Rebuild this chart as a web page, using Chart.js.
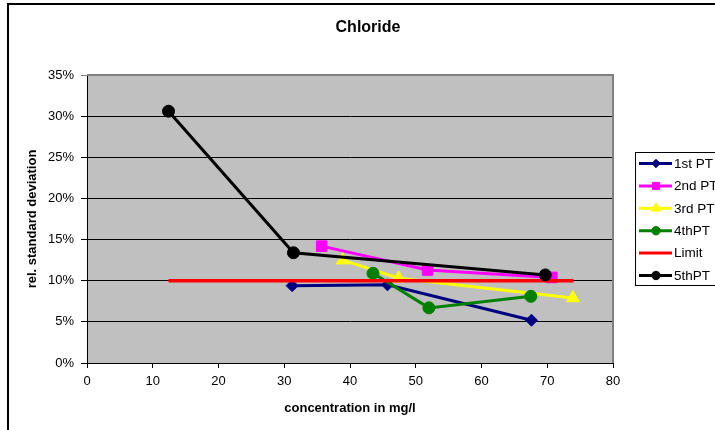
<!DOCTYPE html>
<html>
<head>
<meta charset="utf-8">
<script src="https://cdn.jsdelivr.net/npm/chart.js@4/dist/chart.umd.min.js"></script>
<style>
  html, body { margin: 0; padding: 0; background: #fff; overflow: hidden; }
  canvas { display: block; }
</style>
</head>
<body>
<canvas id="c" width="715" height="430"></canvas>
<script>
// ---- data ----
const chartTitle = 'Chloride';
const xTitle = 'concentration in mg/l';
const yTitle = 'rel. standard deviation';
const seriesNames = ['1st PT', '2nd PT', '3rd PT', '4thPT', 'Limit', '5thPT'];

const pt1X = [31.2, 45.7, 67.6];
const pt1Y = [9.4, 9.5, 5.2];
const pt2X = [35.7, 51.8, 70.7];
const pt2Y = [14.2, 11.3, 10.4];
const pt3X = [38.9, 47.4, 73.9];
const pt3Y = [12.5, 10.3, 7.9];
const pt4X = [43.5, 52.0, 67.5];
const pt4Y = [10.9, 6.7, 8.1];
const limitX = [12.4, 74.0];
const limitY = [10, 10];
const pt5X = [12.4, 31.4, 69.7];
const pt5Y = [30.6, 13.4, 10.7];

const xMin = 0, xMax = 80, xStep = 10;
const yMin = 0, yMax = 35, yStep = 5;

// ---- styles ----
const colors = ['#000080', '#FF00FF', '#FFFF00', '#008000', '#FF0000', '#000000'];
const styles = ['rectRot', 'rect', 'triangle', 'circle', false, 'circle'];
const radii = [6, 7.5, 7.5, 6, 0, 6];
const legendRadii = [4.2, 5, 5.5, 4.2, 0, 4.2];

const xs = [pt1X, pt2X, pt3X, pt4X, limitX, pt5X];
const ys = [pt1Y, pt2Y, pt3Y, pt4Y, limitY, pt5Y];

const FONT = "'Liberation Sans', Arial, sans-serif";
Chart.defaults.font.family = FONT;
Chart.defaults.font.size = 13;
Chart.defaults.color = '#000';

const datasets = seriesNames.map((name, i) => ({
  label: name,
  data: xs[i].map((x, k) => ({ x: x, y: ys[i][k] })),
  showLine: true,
  borderColor: colors[i],
  backgroundColor: colors[i],
  borderWidth: i === 4 ? 3.5 : 3,
  pointStyle: styles[i],
  pointRadius: radii[i],
  pointHoverRadius: radii[i],
  pointBackgroundColor: colors[i],
  pointBorderColor: colors[i],
  pointBorderWidth: 1,
  order: seriesNames.length - i
}));

function shape(ctx, style, x, y, r) {
  ctx.beginPath();
  if (style === 'rectRot') {
    ctx.moveTo(x, y - r); ctx.lineTo(x + r, y); ctx.lineTo(x, y + r); ctx.lineTo(x - r, y);
  } else if (style === 'rect') {
    const s = r * Math.SQRT1_2;
    ctx.rect(x - s, y - s, 2 * s, 2 * s);
  } else if (style === 'triangle') {
    ctx.moveTo(x, y - r);
    ctx.lineTo(x + r * 0.866, y + r * 0.5);
    ctx.lineTo(x - r * 0.866, y + r * 0.5);
  } else {
    ctx.arc(x, y, r, 0, Math.PI * 2);
  }
  ctx.closePath();
  ctx.fill();
  ctx.stroke();
}

const decor = {
  id: 'decor',
  beforeDraw(chart) {
    const ctx = chart.ctx, a = chart.chartArea;
    ctx.save();
    ctx.fillStyle = '#fff';
    ctx.fillRect(0, 0, chart.width, chart.height);
    // outer chart frame (extends past the visible window on the right and bottom)
    ctx.strokeStyle = '#000';
    ctx.lineWidth = 2;
    ctx.strokeRect(8, 4, 760, 500);
    // plot background
    ctx.fillStyle = '#C0C0C0';
    ctx.fillRect(a.left, a.top, a.right - a.left, a.bottom - a.top);
    // title
    ctx.fillStyle = '#000';
    ctx.font = 'bold 16px ' + FONT;
    ctx.textAlign = 'center';
    ctx.textBaseline = 'middle';
    ctx.fillText(chartTitle, 368, 28);
    ctx.restore();
  },
  beforeDatasetsDraw(chart) {
    const ctx = chart.ctx, a = chart.chartArea;
    ctx.save();
    ctx.strokeStyle = '#808080';
    ctx.lineWidth = 2;
    ctx.beginPath();
    ctx.moveTo(a.left, a.top);
    ctx.lineTo(a.right, a.top);
    ctx.lineTo(a.right, a.bottom);
    ctx.stroke();
    ctx.restore();
  },
  afterDraw(chart) {
    const ctx = chart.ctx;
    ctx.save();
    ctx.fillStyle = '#fff';
    ctx.fillRect(635, 152, 100, 133);
    ctx.strokeStyle = '#000';
    ctx.lineWidth = 1;
    ctx.strokeRect(635.5, 152.5, 100, 133);
    ctx.font = '13.5px ' + FONT;
    ctx.textAlign = 'left';
    ctx.textBaseline = 'middle';
    chart.data.datasets.forEach((ds, i) => {
      const y = 163.5 + i * 22.4;
      ctx.strokeStyle = ds.borderColor;
      ctx.lineWidth = 3;
      ctx.beginPath();
      ctx.moveTo(639, y);
      ctx.lineTo(672, y);
      ctx.stroke();
      if (ds.pointStyle) {
        ctx.fillStyle = ds.borderColor;
        ctx.lineWidth = 1;
        shape(ctx, ds.pointStyle, 656, y, legendRadii[i]);
      }
      ctx.fillStyle = '#000';
      ctx.fillText(ds.label, 674, y + 0.5);
    });
    ctx.restore();
  }
};

new Chart(document.getElementById('c'), {
  type: 'scatter',
  data: { datasets: datasets },
  options: {
    responsive: false,
    animation: false,
    events: [],
    layout: { padding: { top: 75, right: 102, bottom: 0, left: 0 } },
    plugins: { legend: { display: false }, title: { display: false }, tooltip: { enabled: false } },
    scales: {
      x: {
        type: 'linear',
        min: xMin, max: xMax,
        afterFit(scale) { scale.height = 67; },
        ticks: { stepSize: xStep, padding: 6, color: '#000', font: { size: 13 }, maxRotation: 0 },
        grid: { display: true, drawOnChartArea: false, drawTicks: true, tickLength: 5, color: '#000' },
        border: { display: true, color: '#000', width: 1 },
        title: { display: true, text: xTitle, color: '#000', font: { size: 13, weight: 'bold' }, padding: { top: 0, bottom: 14 } }
      },
      y: {
        type: 'linear',
        min: yMin, max: yMax,
        afterFit(scale) { scale.width = 87; },
        ticks: { stepSize: yStep, padding: 7, color: '#000', font: { size: 13 }, callback: v => v + '%' },
        grid: {
          display: true, drawOnChartArea: true, drawTicks: true, tickLength: 6,
          color: ctx => (ctx.tick && ctx.tick.value === yMax) ? '#808080' : '#000'
        },
        border: { display: true, color: '#000', width: 1 },
        title: { display: true, text: yTitle, color: '#000', font: { size: 13, weight: 'bold' }, padding: { top: 25, bottom: 0 } }
      }
    }
  },
  plugins: [decor]
});
</script>
</body>
</html>
